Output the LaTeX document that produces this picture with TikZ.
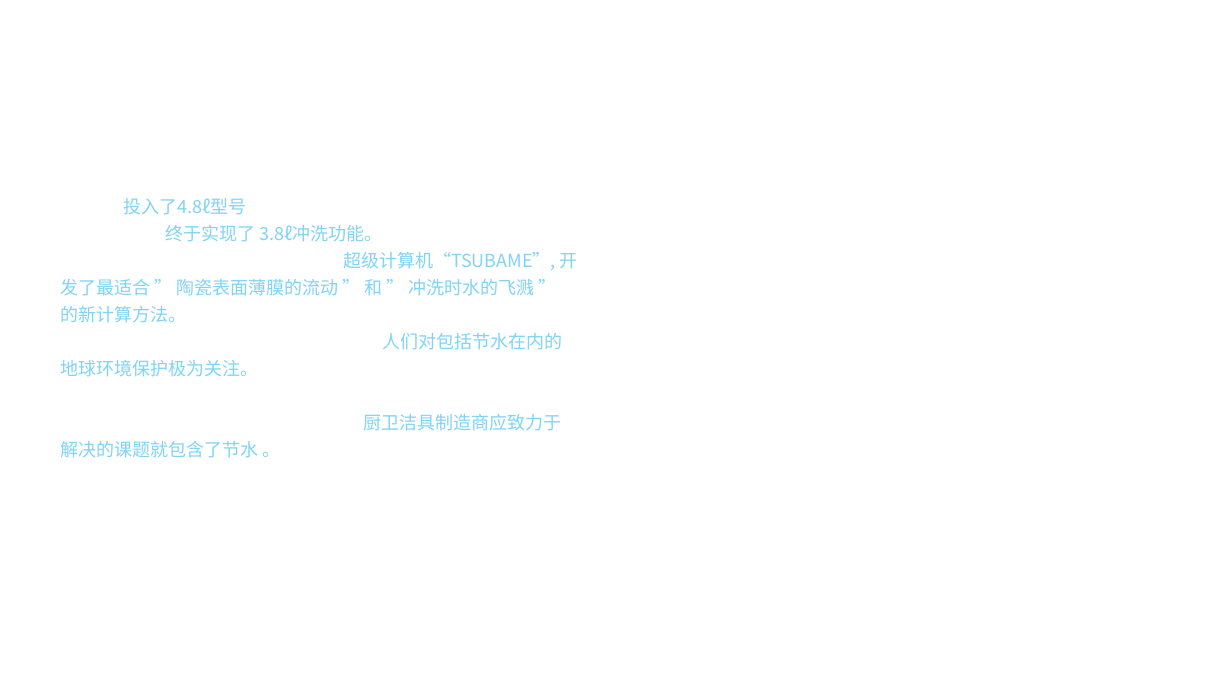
\documentclass[tikz,border=0pt]{standalone}
\usepackage{fontspec}
\newfontfamily\cjk{Noto Sans CJK SC}[BoldFont={Noto Sans CJK SC Medium}]
\definecolor{txt}{HTML}{80D4F6}
\begin{document}
\begin{tikzpicture}[x=1pt,y=-1pt,
  t/.style={anchor=base west,inner sep=0pt,text=txt,font=\cjk\fontsize{18}{20}\selectfont}]
\useasboundingbox[fill=white] (0,0) rectangle (1216,698);
\node[t] (l1) at (123,213) {投入了4.8ℓ型号};
\node[t] (l2) at (165,240) {终于实现了 3.8ℓ冲洗功能。};
\node[t] (l3) at (343,267) {超级计算机“TSUBAME”, 开};
\node[t] (l4) at (60,294) {发了最适合 ” 陶瓷表面薄膜的流动 ” 和 ” 冲洗时水的飞溅 ”};
\node[t] (l5) at (60,321) {的新计算方法。};
\node[t] (l6) at (382,348) {人们对包括节水在内的};
\node[t] (l7) at (60,375) {地球环境保护极为关注。};
\node[t] (l8) at (363,429) {厨卫洁具制造商应致力于};
\node[t] (l9) at (60,456) {解决的课题就包含了节水 。};
\end{tikzpicture}
\end{document}
